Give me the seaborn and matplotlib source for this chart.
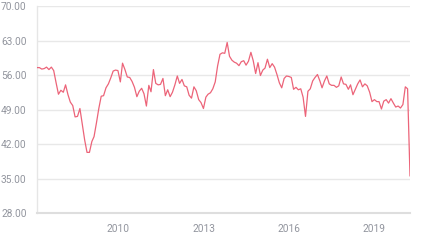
import matplotlib
matplotlib.use("Agg")
import matplotlib.pyplot as plt
import matplotlib.dates as mdates
import seaborn as sns
import pandas as pd
import numpy as np

# monthly index values, Feb 2007 .. Mar 2020 (month-end)
start_month = "2007-02-28"
values = [
    57.5, 57.5, 57.2, 57.3, 57.6, 57.1, 57.6, 56.9, 54.4, 52.1,
    52.9, 52.5, 54.0, 52.0, 50.5, 49.8, 47.5, 47.6, 49.2, 46.0,
    42.8, 40.3, 40.3, 42.5, 43.5, 46.3, 49.2, 51.7, 51.8, 53.4,
    54.2, 55.4, 56.8, 57.0, 56.9, 54.6, 58.4, 57.1, 55.6, 55.5,
    54.7, 53.5, 51.6, 52.7, 53.3, 52.2, 49.7, 53.9, 52.6, 57.1,
    54.3, 54.0, 54.1, 55.3, 51.8, 53.0, 51.6, 52.5, 54.0, 55.8,
    54.3, 55.1, 53.8, 53.6, 51.9, 51.3, 53.6, 52.8, 51.0, 50.4,
    49.2, 51.5, 52.1, 52.4, 53.2, 54.6, 57.8, 60.2, 60.5, 60.4,
    62.6, 59.8, 59.0, 58.6, 58.4, 57.9, 58.7, 58.9, 58.0, 58.8,
    60.6, 58.9, 56.3, 58.5, 55.9, 57.0, 57.4, 59.2, 57.5, 58.3,
    57.6, 56.1, 54.4, 53.4, 55.3, 55.8, 55.7, 55.5, 53.1, 53.5,
    53.0, 53.2, 51.5, 47.6, 52.7, 53.2, 54.8, 55.5, 56.1, 54.8,
    53.4, 54.8, 55.8, 54.2, 53.9, 53.9, 53.5, 53.8, 55.6, 54.2,
    54.1, 53.1, 54.0, 52.0, 53.1, 54.2, 55.0, 53.6, 54.2, 53.8,
    52.5, 50.6, 51.0, 50.6, 50.6, 49.1, 50.7, 51.0, 50.3, 51.2,
    50.3, 49.5, 49.7, 49.3, 50.0, 53.6, 53.2, 35.5,
]
tick_years = [2010, 2013, 2016, 2019]
y_ticks = [28, 35, 42, 49, 56, 63, 70]

dates = pd.date_range(start_month, periods=len(values), freq=pd.offsets.MonthEnd())
df = pd.DataFrame({"date": dates, "value": values})

sns.set_style("white")
plt.rcParams["font.family"] = ["Roboto", "DejaVu Sans"]

fig = plt.figure(figsize=(4.32, 2.5), dpi=100)
ax = fig.add_axes([37 / 432, 1 - 213 / 250, (410 - 37) / 432, (213 - 6) / 250])

ax.set_ylim(y_ticks[0], y_ticks[-1])
ax.set_yticks(y_ticks)
ax.set_yticklabels([f"{v:.2f}" for v in y_ticks])
for v in y_ticks[1:]:
    ax.axhline(v, color="#e8e8e8", lw=1.0, zorder=0)

sns.lineplot(data=df, x="date", y="value", ax=ax, color="#ec6479", lw=0.9, zorder=3)

ax.set_xlim(dates[0], dates[-1])
ax.set_xticks([pd.Timestamp(f"{y}-01-01") for y in tick_years])
ax.xaxis.set_major_formatter(mdates.DateFormatter("%Y"))
ax.set_xlabel("")
ax.set_ylabel("")

for s in ["top", "right"]:
    ax.spines[s].set_visible(False)
ax.spines["left"].set_color("#e6e6e6")
ax.spines["left"].set_linewidth(1.0)
ax.spines["bottom"].set_color("#dedede")
ax.spines["bottom"].set_linewidth(1.5)

ax.tick_params(axis="y", length=0, pad=7.5, labelsize=7.3, labelcolor="#92959e")
ax.tick_params(axis="x", length=4, width=1.0, color="#a6afbd", pad=4,
               labelsize=7.3, labelcolor="#92959e")

fig.savefig("out.png", dpi=100)
